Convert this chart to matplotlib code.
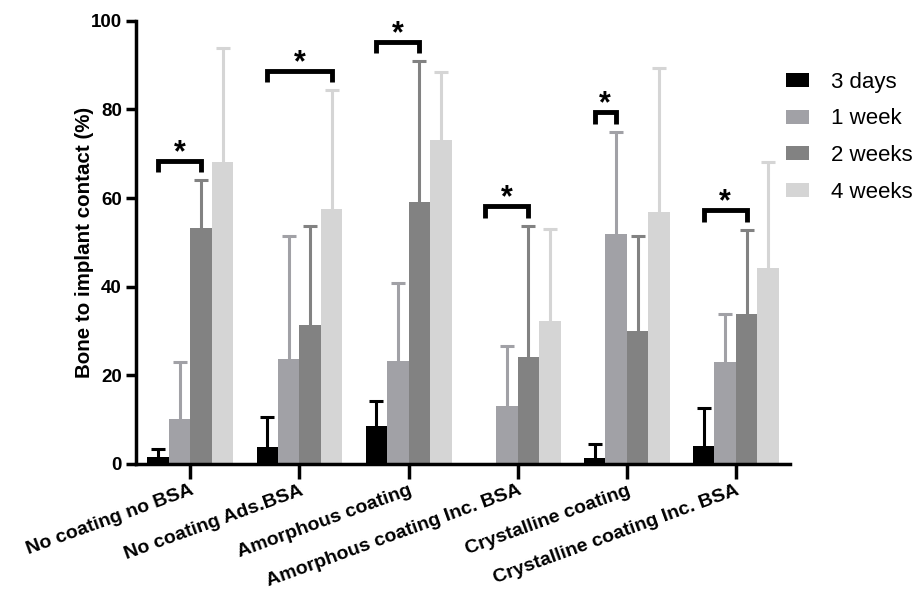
import matplotlib
matplotlib.use("Agg")
import matplotlib.pyplot as plt
import numpy as np

plt.rcParams['font.family'] = ['Liberation Sans', 'DejaVu Sans']

categories = ["No coating no BSA", "No coating Ads.BSA", "Amorphous coating",
              "Amorphous coating Inc. BSA", "Crystalline coating", "Crystalline coating Inc. BSA"]
series_names = ["3 days", "1 week", "2 weeks", "4 weeks"]
means_3d = [1.5, 3.9, 8.6, 0.0, 1.3, 4.0]
means_1w = [10.1, 23.6, 23.3, 13.0, 51.8, 23.1]
means_2w = [53.2, 31.3, 59.1, 24.2, 30.0, 33.9]
means_4w = [68.2, 57.6, 73.2, 32.3, 56.8, 44.3]
sd_3d = [1.8, 6.6, 5.6, 0.0, 3.2, 8.7]
sd_1w = [12.8, 27.8, 17.5, 13.6, 23.2, 10.7]
sd_2w = [10.9, 22.3, 31.9, 29.6, 21.5, 18.8]
sd_4w = [25.6, 26.9, 15.2, 20.7, 32.5, 23.8]
colors = ["#000000", "#a1a1a6", "#828282", "#d5d5d5"]

# significance brackets: (group, series_from, series_to, height)
sig_group = [0, 1, 2, 3, 4, 5]
sig_from = [0, 0, 0, 0, 0, 0]
sig_to = [2, 3, 2, 2, 1, 2]
sig_height = [68.4, 88.7, 95.3, 58.2, 79.4, 57.2]

means = [means_3d, means_1w, means_2w, means_4w]
sds = [sd_3d, sd_1w, sd_2w, sd_4w]

fig = plt.figure(figsize=(9.18, 5.97), dpi=100)
ax = fig.add_axes([0.148, 0.223, 0.713, 0.742])

x = np.arange(len(categories))
w = 0.197
offsets = [-1.5, -0.5, 0.5, 1.5]
for i in range(4):
    xs = x + offsets[i] * w
    ax.bar(xs, means[i], width=w, color=colors[i], label=series_names[i], zorder=2)
    m = np.array(means[i]); s = np.array(sds[i])
    mask = s > 0
    cont = ax.errorbar(xs[mask], m[mask], yerr=[np.zeros(mask.sum()), s[mask]], fmt='none',
                       ecolor=colors[i], elinewidth=2.2, capsize=5, capthick=2.2, zorder=1)
    caps = cont.lines[1]
    if len(caps) == 2:
        caps[0].set_visible(False)

for g, a, b, h in zip(sig_group, sig_from, sig_to, sig_height):
    x1 = g + offsets[a] * w
    x2 = g + offsets[b] * w
    ax.plot([x1, x1, x2, x2], [h - 2.6, h, h, h - 2.6], color='black', lw=3.5,
            solid_joinstyle='miter', solid_capstyle='butt', clip_on=False, zorder=3)
    ax.text((x1 + x2) / 2, h - 1.6, "*", ha='center', va='bottom', fontsize=22,
            fontweight='bold', color='black')

ax.set_xlim(-0.5, 5.5)
ax.set_ylim(0, 100)
ax.set_yticks([0, 20, 40, 60, 80, 100])
ax.set_xticks(x)
ax.set_xticklabels(categories, rotation=20, ha='right', rotation_mode='anchor',
                   fontsize=14, fontweight='bold')
for lab in ax.get_yticklabels():
    lab.set_fontweight('bold')
    lab.set_fontsize(13.5)
ax.set_ylabel("Bone to implant contact (%)", fontsize=14.8, fontweight='bold', labelpad=-2)
ax.spines['top'].set_visible(False)
ax.spines['right'].set_visible(False)
ax.spines['left'].set_linewidth(2.5)
ax.spines['bottom'].set_linewidth(2.5)
ax.tick_params(axis='y', width=2.5, length=7, pad=3)
ax.tick_params(axis='x', width=2.5, length=11, pad=2)

leg = ax.legend(loc='upper left', bbox_to_anchor=(0.979, 0.905), frameon=False,
                fontsize=16, handlelength=1.05, handleheight=0.6, labelspacing=0.7,
                handletextpad=1.0, borderaxespad=0)

fig.savefig("out.png", dpi=100)
